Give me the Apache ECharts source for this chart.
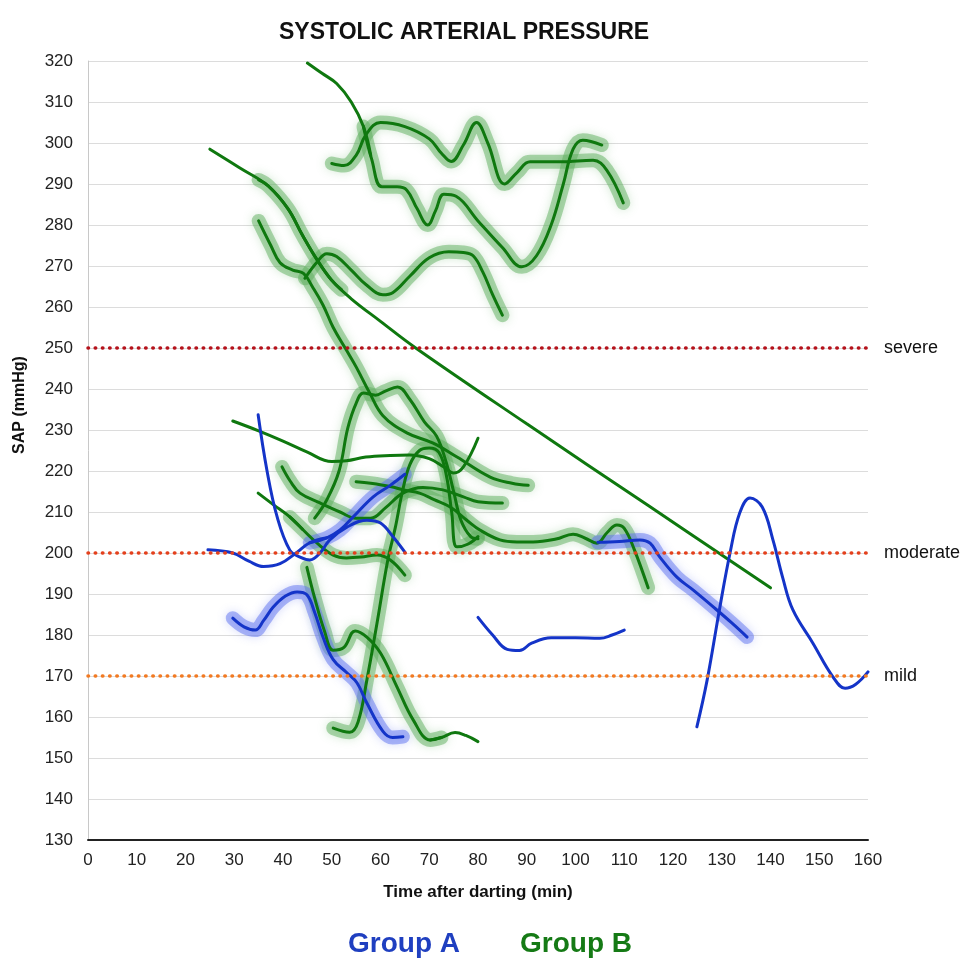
<!DOCTYPE html>
<html>
<head>
<meta charset="utf-8">
<script src="https://cdn.jsdelivr.net/npm/echarts@6/dist/echarts.min.js"></script>
<style>
  html, body { margin: 0; padding: 0; background: #fff; }
  #chart { width: 970px; height: 960px; }
</style>
</head>
<body>
<div id="chart"></div>
<script>
// axis ranges
const xRange = [0, 160, 10];
const yRange = [130, 320, 10];

// thresholds
const thresholdNames = ['severe', 'moderate', 'mild'];
const thresholdValues = [250, 200, 170];

// Group B animals (green), [time, SAP]
const gSlope = [[25,298.5],[31,294],[37,289.5],[41,284],[44,277.5],[47,271.5],[50,266.5],[54,262],[60,256.5],[67,250.2],[90,231.5],[115,211.5],[140,191.5]];
const gSlopeGlow = [[35,291],[37,289.5],[41,284],[44,277.5],[47,271.5],[50,266.5],[52,264.2]];
const gTopPlain = [[45,319.5],[48,317],[51,314.5],[54,310],[56.5,304],[58,297]];
const gTop = [[56.5,304],[58.2,296],[60.3,289.3],[63.4,289.3],[65.4,288.5],[67.5,284],[69.7,280],[71.3,283.5],[73,287.5],[75.5,287],[80,281],[85,274.5],[89,269.8],[92,272.5],[95,280],[97.5,290],[99.5,298.5],[101.5,300.7],[105.4,299.5]];
const gWave300 = [[50,295],[52.5,294.5],[55,297],[57,302],[60,305],[65,304],[70,301],[72.5,297.5],[74.5,295.5],[77,299.5],[79.7,305],[82,300],[85.5,290],[88,292.8],[90.7,295.4],[97,295.4],[103.6,295.8],[106.4,293.4],[109.8,285.4]];
const gLong = [[35,281],[37.5,275],[39.4,270.8],[42,269],[44.2,268.2],[46,265],[48.2,260.5],[50.3,255],[53,249.5],[55,245.4],[57.8,239],[60.5,233.5],[65.4,229.3],[70.8,226.8],[75.7,223.4],[82.5,218.5],[87,217],[90.3,216.5]];
const gWave270 = [[44.5,267],[47,271],[49,273],[51,272.3],[54,269],[57,265.5],[60.5,263],[62.5,263.5],[66,267.5],[70,272],[74,273.5],[77,273.3],[79,272.5],[81,268.5],[83,263],[85,258]];
const g232 = [[29.7,232.2],[35,229.8],[40,227.3],[45,224.6],[50,222.3],[53,222.5],[57,223.4],[62,223.8],[66,223.9],[70,223],[73,221],[75,219.5],[77,221],[80,228]];
const g217 = [[55,217.4],[58,217],[62,216.2],[65,215.3],[68,214.6],[71,213],[74.3,211.2],[77.7,208],[80.4,205.6],[84.5,203.2],[88,202.7],[91.3,202.7],[96,203.4],[99.5,204.6],[102,203.6],[104.4,202.4],[106.5,205],[108.5,206.8],[110,206],[112,201],[114.9,191.5]];
const gCross = [[39.8,221],[41.5,217.5],[43.5,214.6],[47.6,212.2],[51.7,210],[55,208.5],[58,208.5],[61,211],[64.6,214.6],[68.7,216],[72.8,215.4],[77,213.7],[80,212.5],[85,212.2]];
const gPeak240 = [[46.5,208.5],[49,213],[51.5,220],[53.3,230.5],[55,236.5],[56.5,239],[59,238.5],[61,239.5],[63.5,240.5],[66,237.5],[69,232],[71.5,228.5],[73.5,222],[75,215],[76.5,208],[78.5,204],[80,203.5]];
const gRise = [[50.3,157.3],[53.7,156.3],[55.4,158.8],[57.2,169],[59.3,183],[61.5,198.3],[63,206],[64.5,215],[66,221.5],[68,225],[70,225.6],[72,224.5],[73.5,219],[74.6,210],[75.7,201.5],[78,202.2],[80,204]];
const gLowPlain = [[34.9,214.6],[38,211.8],[41.4,208.8],[44,205.8]];
const gLow = [[41.4,208.8],[44,205.8],[47,202.4],[50.3,199.5],[53,198.8],[56,199],[59.3,199.5],[62,198.3],[65,194.6]];
const gDrop = [[44.9,196.5],[46.5,189],[48.5,181],[50.3,176.3],[52.5,177],[54.8,181],[57.2,179.5],[60,175.6],[63.4,167.3],[66.7,159.3],[70.2,154.4],[72.5,155]];
const gDropTail = [[70.2,154.4],[72.5,155],[75.3,156.2],[77.5,155.5],[80,154]];

// Group A animals (blue)
const bSteep = [[34.9,233.7],[36.7,220.2],[38.8,208.8],[41.4,200.7],[43.5,199],[45.5,198.3],[47.6,200],[49.6,203.2],[53.1,206.3],[57.2,208],[60,207.3],[62.6,203.9],[65,200.2]];
const bLeft = [[24.6,200.8],[29.7,200],[33,198],[36,196.7],[39.4,197.4],[42.9,200.2],[45.5,202.5],[49,203.7]];
const bLeftGlow = [[45.5,202.5],[49,203.7],[51.7,205.6],[54.4,208.8],[58.5,213.7],[62,216.5],[65,219.2]];
const bHump = [[29.7,184.1],[32,182],[34.3,181.2],[36,183.5],[38,186.8],[40.5,189.5],[42.9,190.5],[44.9,189.8],[46.5,185.5],[48.2,179.5],[50.3,174],[53.1,170.8],[55.2,168.3],[57.2,163.4],[60.5,156.5],[62.5,155],[64.6,155.2]];
const bMid = [[80,184.3],[83,180],[86,176.5],[88.5,176.2],[91,178],[95,179.3],[100,179.3],[105,179.2],[107.5,180],[110,181.2]];
const bRight = [[104.6,202.6],[109,202.8],[113.2,203.2],[115.3,202.4],[117.3,199],[120.8,194.1],[124.1,191],[129,186.1],[132,183],[135.2,179.5]];
const bPeak = [[124.9,157.6],[127,169],[129.5,186],[131.7,200],[133.7,209.8],[135.8,213.4],[138.3,211.2],[140.5,203.2],[142.5,194],[144.6,186.1],[148.7,178],[152.8,169.8],[155.3,167],[157.5,168],[160,171]];

const GREEN = '#0f780f';
const BLUE = '#1434c8';
const GREEN_GLOW = 'rgba(95,175,95,0.5)';
const BLUE_GLOW = 'rgba(95,115,240,0.5)';

const lines = [
  [gSlope, 'B', false], [gSlopeGlow, 'B', true],
  [gTopPlain, 'B', false], [gTop, 'B', true],
  [gWave300, 'B', true], [gLong, 'B', true], [gWave270, 'B', true],
  [g232, 'B', false], [g217, 'B', true], [gCross, 'B', true],
  [gPeak240, 'B', true], [gRise, 'B', true],
  [gLowPlain, 'B', false], [gLow, 'B', true],
  [gDrop, 'B', true], [gDropTail, 'B', false],
  [bSteep, 'A', false], [bLeft, 'A', false], [bLeftGlow, 'A', true],
  [bHump, 'A', true], [bMid, 'A', false], [bRight, 'A', true], [bPeak, 'A', false]
];

const series = [];
lines.forEach(([pts, grp, glow]) => {
  const col = grp === 'A' ? BLUE : GREEN;
  if (glow) {
    const gc = grp === 'A' ? BLUE_GLOW : GREEN_GLOW;
    series.push({
      type: 'line', data: pts, smooth: 0.4, symbol: 'none', silent: true, z: 1,
      lineStyle: { width: 14, color: gc, shadowBlur: 10, shadowColor: gc, cap: 'round' }
    });
  }
  series.push({
    type: 'line', data: pts, smooth: 0.4, symbol: 'none', silent: true, z: 3,
    lineStyle: { width: 3, color: col, cap: 'round' }
  });
});

const thresholdColors = ['#b5121b', '#e4401c', '#f27a22'];
series.push({
  type: 'line', data: [], z: 2,
  markLine: {
    symbol: 'none', silent: true, animation: false,
    lineStyle: { type: [0.5, 6.7], width: 3.5, cap: 'round' },
    label: { position: 'end', distance: 16, color: '#111', fontSize: 18, fontFamily: 'Liberation Sans' },
    data: thresholdValues.map((v, i) => ({
      yAxis: v,
      lineStyle: { color: thresholdColors[i] },
      label: { formatter: thresholdNames[i] }
    }))
  }
});

const chart = echarts.init(document.getElementById('chart'));
chart.setOption({
  animation: false,
  textStyle: { fontFamily: 'Liberation Sans' },
  title: {
    text: 'SYSTOLIC ARTERIAL PRESSURE', left: 274, top: 16,
    textStyle: { fontSize: 23, fontWeight: 'bold', color: '#111', fontFamily: 'Liberation Sans' }
  },
  grid: { left: 88, right: 102, top: 61, bottom: 120 },
  xAxis: {
    type: 'value', min: xRange[0], max: xRange[1], interval: xRange[2],
    name: 'Time after darting (min)', nameLocation: 'middle', nameGap: 44,
    nameTextStyle: { fontSize: 17, fontWeight: 'bold', color: '#111' },
    axisLine: { lineStyle: { color: '#222', width: 2 } },
    axisTick: { show: false },
    axisLabel: { fontSize: 17, color: '#222', margin: 12 },
    splitLine: { show: false }
  },
  yAxis: {
    type: 'value', min: yRange[0], max: yRange[1], interval: yRange[2],
    axisLine: { show: true, lineStyle: { color: '#c8c8c8', width: 1 } },
    axisTick: { show: false },
    axisLabel: { fontSize: 17, color: '#222', margin: 15 },
    splitLine: { lineStyle: { color: '#dcdcdc', width: 1 } }
  },
  graphic: [
    { type: 'text', x: 20, y: 405, rotation: Math.PI / 2,
      style: { text: 'SAP (mmHg)', font: 'bold 16px "Liberation Sans"', fill: '#111', textAlign: 'center', textVerticalAlign: 'middle' } },
    { type: 'text', x: 348, y: 944,
      style: { text: 'Group A', font: 'bold 28px "Liberation Sans"', fill: '#1f3fc0', textAlign: 'left', textVerticalAlign: 'middle' } },
    { type: 'text', x: 520, y: 944,
      style: { text: 'Group B', font: 'bold 28px "Liberation Sans"', fill: '#157a15', textAlign: 'left', textVerticalAlign: 'middle' } }
  ],
  series: series
});
</script>
</body>
</html>
